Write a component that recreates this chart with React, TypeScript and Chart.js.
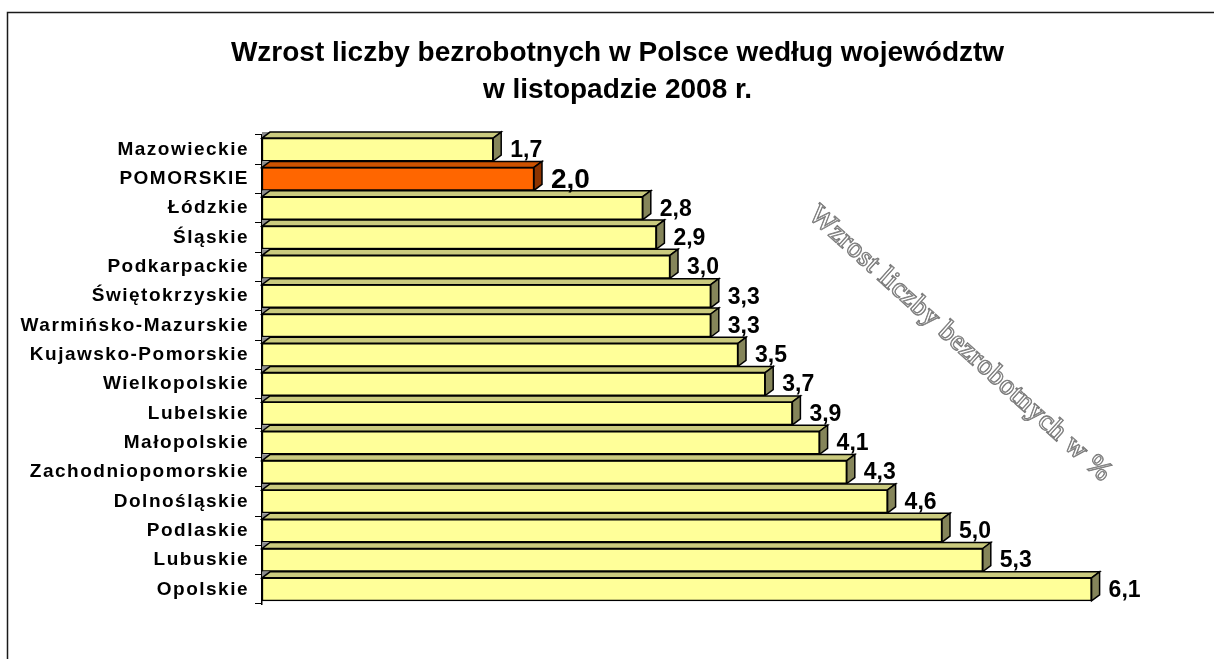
import React, { useEffect, useRef } from 'react';
import { Chart, registerables } from 'chart.js';

Chart.register(...registerables);

const categories = [
  'Mazowieckie',
  'POMORSKIE',
  'Łódzkie',
  'Śląskie',
  'Podkarpackie',
  'Świętokrzyskie',
  'Warmińsko-Mazurskie',
  'Kujawsko-Pomorskie',
  'Wielkopolskie',
  'Lubelskie',
  'Małopolskie',
  'Zachodniopomorskie',
  'Dolnośląskie',
  'Podlaskie',
  'Lubuskie',
  'Opolskie',
];
const values = [1.7, 2.0, 2.8, 2.9, 3.0, 3.3, 3.3, 3.5, 3.7, 3.9, 4.1, 4.3, 4.6, 5.0, 5.3, 6.1];
const highlighted = 'POMORSKIE';
const chartTitle = ['Wzrost liczby bezrobotnych w Polsce według województw', 'w listopadzie 2008 r.'];
const axisTitle = 'Wzrost liczby bezrobotnych w %';

const FRONT = '#FFFF99';
const TOP = '#CACA7E';
const SIDE = '#85855A';
const H_FRONT = '#FF6600';
const H_TOP = '#CC5200';
const H_SIDE = '#8C3300';
const DX = 8;
const DY = 6;
const SANS = '"Liberation Sans", Arial, sans-serif';

const fmt = (v: number) => v.toFixed(1).replace('.', ',');

const decoPlugin = {
  id: 'deco',
  beforeDraw(chart: any) {
    const ctx = chart.ctx;
    const w = chart.width;
    const h = chart.height;
    ctx.save();
    ctx.fillStyle = '#ffffff';
    ctx.fillRect(0, 0, w, h);
    ctx.strokeStyle = '#1a1a1a';
    ctx.lineWidth = 1.5;
    ctx.beginPath();
    ctx.moveTo(7.5, h + 5);
    ctx.lineTo(7.5, 12.5);
    ctx.lineTo(w + 5, 12.5);
    ctx.stroke();
    ctx.restore();
  },
  afterDatasetsDraw(chart: any) {
    const ctx = chart.ctx;
    const meta = chart.getDatasetMeta(0);
    const left = chart.chartArea.left;
    meta.data.forEach((bar: any, i: number) => {
      const { x, y, height } = bar.getProps(['x', 'y', 'height'], true);
      const top = y - height / 2;
      const bottom = y + height / 2;
      const hi = categories[i] === highlighted;
      ctx.save();
      ctx.lineWidth = 1.5;
      ctx.strokeStyle = '#000';
      ctx.lineJoin = 'miter';
      ctx.fillStyle = '#8c8c8c';
      ctx.beginPath();
      ctx.moveTo(left, top);
      ctx.lineTo(left, top - DY);
      ctx.lineTo(left + DX, top - DY);
      ctx.closePath();
      ctx.fill();
      ctx.fillStyle = hi ? H_TOP : TOP;
      ctx.beginPath();
      ctx.moveTo(left, top);
      ctx.lineTo(left + DX, top - DY);
      ctx.lineTo(x + DX, top - DY);
      ctx.lineTo(x, top);
      ctx.closePath();
      ctx.fill();
      ctx.stroke();
      ctx.fillStyle = hi ? H_SIDE : SIDE;
      ctx.beginPath();
      ctx.moveTo(x, top);
      ctx.lineTo(x + DX, top - DY);
      ctx.lineTo(x + DX, bottom - DY);
      ctx.lineTo(x, bottom);
      ctx.closePath();
      ctx.fill();
      ctx.stroke();
      ctx.restore();
    });
    // letter spacing for category labels (drawn on a later layer)
    ctx.letterSpacing = '1.5px';
  },
  afterDraw(chart: any) {
    const ctx = chart.ctx;
    ctx.letterSpacing = '0px';
    const meta = chart.getDatasetMeta(0);
    ctx.save();
    ctx.fillStyle = '#000';
    ctx.textAlign = 'left';
    ctx.textBaseline = 'middle';
    meta.data.forEach((bar: any, i: number) => {
      const { x, y } = bar.getProps(['x', 'y'], true);
      const hi = categories[i] === highlighted;
      ctx.font = `bold ${hi ? 28 : 23}px ${SANS}`;
      ctx.fillText(fmt(values[i]), x + 17, y + 1);
    });
    ctx.restore();

    // rotated axis title
    const area = chart.chartArea;
    ctx.save();
    ctx.translate(area.left + 698, area.top + 209);
    ctx.rotate((42 * Math.PI) / 180);
    ctx.font = '28px "Liberation Serif", "Times New Roman", serif';
    ctx.letterSpacing = '0.8px';
    ctx.textAlign = 'center';
    ctx.textBaseline = 'middle';
    ctx.fillStyle = '#ffffff';
    ctx.strokeStyle = '#7a7a7a';
    ctx.lineWidth = 1.8;
    ctx.strokeText(axisTitle, 0, 0);
    ctx.fillText(axisTitle, 0, 0);
    ctx.lineWidth = 0.8;
    ctx.strokeText(axisTitle, 0, 0);
    ctx.restore();
    ctx.letterSpacing = '0px';
  },
};

export default function App() {
  const ref = useRef<HTMLCanvasElement>(null);
  useEffect(() => {
    if (!ref.current) return;
    const chart = new Chart(ref.current, {
      type: 'bar',
      data: {
        labels: categories,
        datasets: [
          {
            data: values,
            backgroundColor: categories.map((c) => (c === highlighted ? H_FRONT : FRONT)),
            borderColor: '#000',
            borderWidth: 1.5,
            borderSkipped: false,
            barThickness: 23,
          },
        ],
      },
      options: {
        responsive: false,
        devicePixelRatio: 1,
        animation: false,
        indexAxis: 'y',
        layout: { padding: { left: 0, right: -21, top: 0, bottom: 55 } },
        plugins: {
          legend: { display: false },
          tooltip: { enabled: false },
          title: {
            display: true,
            text: chartTitle,
            color: '#000',
            font: { family: SANS, size: 28, weight: 'bold', lineHeight: 1.32 },
            padding: { top: 34.5, bottom: 26.5 },
          },
        },
        scales: {
          x: { display: false, min: 0, max: 7 },
          y: {
            afterFit(scale: any) {
              scale.width = 262;
            },
            ticks: {
              z: 1,
              padding: 6,
              color: '#000',
              autoSkip: false,
              font: { family: SANS, size: 19, weight: 'bold' },
            },
            grid: {
              display: true,
              drawOnChartArea: false,
              drawTicks: true,
              tickLength: 7,
              offset: true,
              color: '#000',
              lineWidth: 1,
            },
            border: { display: true, color: '#000', width: 1.5 },
          },
        },
      },
      plugins: [decoPlugin],
    } as any);
    return () => chart.destroy();
  }, []);
  return (
    <div style={{ position: 'absolute', left: 0, top: 0, width: 1214, height: 659 }}>
      <canvas ref={ref} width={1214} height={659} style={{ display: 'block', width: 1214, height: 659 }} />
    </div>
  );
}
